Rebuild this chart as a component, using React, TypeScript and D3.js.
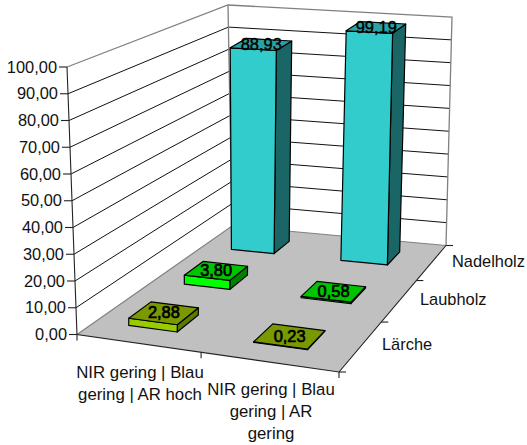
import React from "react";
import * as d3 from "d3";

// Chart values
const categories = ["NIR gering | Blau gering | AR hoch", "NIR gering | Blau gering | AR gering"];
const categoryLines = [
  ["NIR gering | Blau", "gering | AR hoch"],
  ["NIR gering | Blau", "gering | AR", "gering"],
];
const classes = ["Lärche", "Laubholz", "Nadelholz"];
const laercheValues = [2.88, 0.23];
const laubholzValues = [3.8, 0.58];
const nadelholzValues = [88.93, 99.19];
const valueTicks = [0, 10, 20, 30, 40, 50, 60, 70, 80, 90, 100];

const seriesValues = [laercheValues, laubholzValues, nadelholzValues];
const faceColours = [
  { front: "#99cc00", top: "#7a9900", side: "#5c7a00" },
  { front: "#00ff00", top: "#00c400", side: "#008000" },
  { front: "#33cccc", top: "#2aa3a3", side: "#1a6666" },
];

type P = [number, number];

// Projective map of the unit square onto a quadrilateral (p00, p10, p11, p01)
function quadMap(p00: P, p10: P, p11: P, p01: P) {
  const dx1 = p10[0] - p11[0], dx2 = p01[0] - p11[0], sx = p00[0] - p10[0] + p11[0] - p01[0];
  const dy1 = p10[1] - p11[1], dy2 = p01[1] - p11[1], sy = p00[1] - p10[1] + p11[1] - p01[1];
  const det = dx1 * dy2 - dx2 * dy1;
  const g = (sx * dy2 - dx2 * sy) / det;
  const h = (dx1 * sy - sx * dy1) / det;
  const a = p10[0] - p00[0] + g * p10[0], b = p01[0] - p00[0] + h * p01[0], c = p00[0];
  const d = p10[1] - p00[1] + g * p10[1], e = p01[1] - p00[1] + h * p01[1], f = p00[1];
  return (u: number, v: number): P => {
    const w = g * u + h * v + 1;
    return [(a * u + b * v + c) / w, (d * u + e * v + f) / w];
  };
}

const floor = quadMap([77, 334.5], [339, 372], [446, 245.5], [232, 226]);
const ceiling = quadMap([67, 67], [342, 97], [452, 17], [228, 5]);
// Column tops use a slightly tighter frustum than the walls
const columnCeiling = quadMap([78, 85], [343, 99], [452, 17], [228, 5]);
const heightScale = d3.scaleLinear().domain([0, 100]).range([0, 1]);
const lift = (top: (u: number, v: number) => P) => (u: number, v: number, value: number): P => {
  const a = floor(u, v), b = top(u, v), t = heightScale(value);
  return [a[0] + (b[0] - a[0]) * t, a[1] + (b[1] - a[1]) * t];
};
const project = lift(ceiling);
const projectColumn = lift(columnCeiling);

const uBand = d3.scaleBand<number>().domain([0, 1]).range([-0.012, 0.988]).paddingInner(0.6).paddingOuter(0.3);
const vBand = d3.scaleBand<number>().domain([0, 1, 2]).range([0, 1]).paddingInner(0.62).paddingOuter(0.3);
const path = (pts: P[]) => d3.line()(pts) + "Z";
const font = "'Liberation Sans', Arial, sans-serif";

function Bar({ ci, si }: { ci: number; si: number }) {
  const value = seriesValues[si][ci];
  const u0 = uBand(ci)!, u1 = u0 + uBand.bandwidth();
  const v0 = vBand(si)!, v1 = v0 + vBand.bandwidth();
  const c = faceColours[si];
  const q = projectColumn;
  const stroke = { stroke: "#000", strokeWidth: 1.2, strokeLinejoin: "round" as const };
  return (
    <g>
      <path d={path([q(u1, v0, 0), q(u1, v1, 0), q(u1, v1, value), q(u1, v0, value)])} fill={c.side} {...stroke} />
      <path d={path([q(u0, v0, 0), q(u1, v0, 0), q(u1, v0, value), q(u0, v0, value)])} fill={c.front} {...stroke} />
      <path d={path([q(u0, v0, value), q(u1, v0, value), q(u1, v1, value), q(u0, v1, value)])} fill={c.top} {...stroke} />
    </g>
  );
}

function BarLabel({ ci, si }: { ci: number; si: number }) {
  const value = seriesValues[si][ci];
  const u = uBand(ci)! + uBand.bandwidth() / 2;
  const v = vBand(si)! + vBand.bandwidth() / 2;
  const [x, y] = projectColumn(u, v, value);
  return (
    <text x={x} y={y + 5.5} textAnchor="middle" fontSize={16.4} fill="#000" stroke="#000" strokeWidth={value > 50 ? 0.4 : 0.7}>
      {d3.format(".2f")(value).replace(".", ",")}
    </text>
  );
}

export default function App() {
  const vTicks = d3.range(0, 1.0001, 1 / 3);
  const uTicks = d3.range(0, 1.0001, 1 / 2);
  return (
    <svg width={527} height={445} style={{ position: "absolute", left: 0, top: 0 }} fontFamily={font}>
      <rect width={527} height={445} fill="#fff" />

      {/* Back and side walls */}
      {valueTicks.slice(1, -1).map((t) => (
        <g key={t} fill="none" stroke="#111" strokeWidth={1}>
          <path d={d3.line()([project(0, 0, t), project(0, 1, t), project(1, 1, t)])!} />
        </g>
      ))}
      <path
        d={d3.line()([project(0, 0, 100), project(0, 1, 100), project(1, 1, 100), project(1, 1, 0)])!}
        fill="none"
        stroke="#808080"
        strokeWidth={1.3}
      />
      <path d={d3.line()([project(0, 1, 100), project(0, 1, 0)])!} fill="none" stroke="#808080" strokeWidth={1.3} />

      {/* Floor */}
      <path d={path([floor(0, 0), floor(1, 0), floor(1, 1), floor(0, 1)])} fill="#c0c0c0" />
      <path d={d3.line()([floor(0, 0), floor(0, 1), floor(1, 1)])!} fill="none" stroke="#808080" strokeWidth={1.2} />

      {/* Axis lines and tick marks */}
      <g fill="none" stroke="#222" strokeWidth={1.1}>
        <path d={d3.line()([project(0, 0, 100), project(0, 0, 0), floor(1, 0), floor(1, 1)])!} />
        {valueTicks.map((t) => {
          const [x, y] = project(0, 0, t);
          return <path key={t} d={`M${x - 8},${y}H${x}`} />;
        })}
        {uTicks.map((u) => {
          const [x, y] = floor(u, 0);
          return <path key={u} d={`M${x},${y}V${y + 6}`} />;
        })}
        {vTicks.map((v) => {
          const [x, y] = floor(1, v);
          return <path key={v} d={`M${x},${y}H${x + 7}`} />;
        })}
      </g>

      {/* Columns, painted from the back row forward */}
      {[2, 1, 0].map((si) =>
        categories.map((_, ci) => <Bar key={`${si}-${ci}`} ci={ci} si={si} />)
      )}
      {[2, 1, 0].map((si) =>
        categories.map((_, ci) => <BarLabel key={`${si}-${ci}`} ci={ci} si={si} />)
      )}

      {/* Axis labels */}
      <g fontSize={16.4} fill="#111">
        {valueTicks.map((t) => {
          const [x, y] = project(0, 0, t);
          return (
            <text key={t} x={x - 10} y={y + 5.5} textAnchor="end">
              {d3.format(".2f")(t).replace(".", ",")}
            </text>
          );
        })}
        {categoryLines.map((lines, i) => (
          <text key={i} textAnchor="middle" fontSize={16.8} x={[140, 271][i]} y={[378, 395][i]}>
            {lines.map((l, j) => (
              <tspan key={j} x={[140, 271][i]} dy={j ? 22 : 0}>
                {l}
              </tspan>
            ))}
          </text>
        ))}
        {classes.map((c, i) => (
          <text key={c} x={[382, 420, 452][i]} y={[350, 305, 267][i]}>
            {c}
          </text>
        ))}
      </g>
    </svg>
  );
}
